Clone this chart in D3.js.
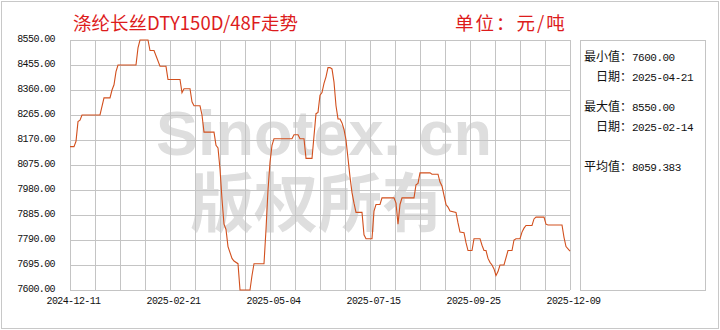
<!DOCTYPE html>
<html>
<head>
<meta charset="utf-8">
<script src="https://cdn.jsdelivr.net/npm/d3@7"></script>
<style>
  body { margin: 0; background: #fff; }
  .mono { font-family: "Liberation Mono", monospace; }
  .cjk { font-family: "Noto Sans CJK SC", sans-serif; }
</style>
</head>
<body>
<div id="chart"></div>
<script>
// trading-day index (0 = 2024-12-11) and price
const dayIdx = [0, 2, 3, 4, 5, 6, 15, 17, 20, 21, 22, 23, 24, 33, 34, 35, 39, 40, 42, 43,
  45, 48, 49, 55, 56, 57, 60, 61, 62, 65, 66, 67, 72, 73, 74, 75, 76, 77, 78, 79,
  81, 82, 84, 85, 90, 91, 92, 97, 98, 99, 100, 101, 102, 111, 112, 114, 115, 117, 118, 121,
  122, 123, 124, 125, 126, 127, 128, 129, 130, 131, 132, 133, 134, 135, 136, 137, 138, 139, 140, 141,
  142, 143, 146, 147, 148, 151, 152, 153, 155, 156, 162, 163, 164, 165, 166, 172, 173, 174, 175, 180,
  181, 184, 185, 186, 187, 188, 189, 190, 193, 194, 195, 197, 198, 199, 201, 202, 205, 206, 207, 208,
  209, 210, 211, 212, 213, 214, 215, 217, 219, 221, 222, 223, 225, 226, 227, 228, 231, 232, 233, 237,
  238, 239, 246, 247, 248, 250];
const price = [8145, 8145, 8165, 8240, 8245, 8265, 8265, 8330, 8330, 8360, 8380, 8430, 8455, 8455, 8520, 8550, 8550, 8510, 8510, 8490,
  8450, 8450, 8400, 8400, 8350, 8365, 8365, 8315, 8300, 8300, 8265, 8200, 8200, 8150, 8140, 8060, 7945, 7850, 7830, 7765,
  7720, 7710, 7700, 7600, 7600, 7655, 7700, 7700, 7830, 7980, 8085, 8150, 8175, 8175, 8190, 8190, 8175, 8175, 8100, 8100,
  8185, 8270, 8275, 8340, 8350, 8385, 8410, 8445, 8445, 8440, 8390, 8300, 8250, 8250, 8235, 8210, 8170, 8100, 8030, 7970,
  7930, 7895, 7895, 7810, 7795, 7795, 7900, 7925, 7925, 7950, 7950, 7930, 7850, 7925, 7950, 7950, 8000, 8005, 8045, 8045,
  8040, 8040, 8010, 7995, 7960, 7925, 7915, 7900, 7895, 7855, 7820, 7818, 7780, 7750, 7750, 7795, 7795, 7770, 7750, 7750,
  7720, 7705, 7695, 7680, 7655, 7670, 7695, 7695, 7750, 7750, 7790, 7795, 7795, 7820, 7835, 7845, 7845, 7870, 7877, 7877,
  7850, 7847, 7847, 7800, 7765, 7748];

const xTickIdx = [0, 50, 100, 150, 200, 250];
const xTickLabels = ["2024-12-11", "2025-02-21", "2025-05-04", "2025-07-15", "2025-09-25", "2025-12-09"];
const yTicks = [7600, 7695, 7790, 7885, 7980, 8075, 8170, 8265, 8360, 8455, 8550];

const statNames = ["最小值：", "日期：", "最大值：", "日期：", "平均值："];
const statValues = ["7600.00", "2025-04-21", "8550.00", "2025-02-14", "8059.383"];

const titleText = "涤纶长丝DTY150D/48F走势";
const unitText = "单位：元/吨";

const margin = {top: 40, left: 70};
const width = 500, height = 250;
const gridColor = "#c4c4c4";

const svg = d3.select("#chart").append("svg")
  .attr("width", 720)
  .attr("height", 330);

// outer frame
svg.append("rect")
  .attr("x", 1.5).attr("y", 1.5)
  .attr("width", 717).attr("height", 327)
  .attr("fill", "none")
  .attr("stroke", "#c8c8c8");

svg.append("text")
  .attr("class", "cjk")
  .attr("x", 73).attr("y", 29.5)
  .attr("font-size", "18.5px")
  .attr("fill", "#dd1c1c")
  .text(titleText);

svg.append("text")
  .attr("class", "cjk")
  .attr("x", 455).attr("y", 29.5)
  .attr("font-size", "18.5px")
  .attr("letter-spacing", "2px")
  .attr("fill", "#dd1c1c")
  .text(unitText);

const x = d3.scaleLinear().domain([0, 250]).range([0, width]);
const y = d3.scaleLinear().domain([7600, 8550]).range([height, 0]);

const g = svg.append("g")
  .attr("transform", `translate(${margin.left},${margin.top})`);

// watermark
g.append("text")
  .attr("x", 86).attr("y", 115)
  .attr("font-family", "Liberation Sans, Arial, sans-serif")
  .attr("font-weight", "bold")
  .attr("font-size", "63px")
  .attr("fill", "#dedede")
  .text("Sinotex. cn");
g.append("text")
  .attr("class", "cjk")
  .attr("x", 120).attr("y", 186)
  .attr("font-weight", "bold")
  .attr("font-size", "64px")
  .attr("fill", "#dedede")
  .text("版权所有");

// vertical grid, every 12.5 days
g.append("g")
  .selectAll("line")
  .data(d3.range(0, 250.1, 12.5))
  .join("line")
  .attr("x1", d => Math.round(x(d)) + 0.5)
  .attr("x2", d => Math.round(x(d)) + 0.5)
  .attr("y1", 0)
  .attr("y2", height)
  .attr("stroke", gridColor);

// y axis with horizontal grid
const yAxis = d3.axisLeft(y)
  .tickValues(yTicks)
  .tickSize(-width)
  .tickPadding(15)
  .tickFormat(d3.format(".2f"));

const yAxisG = g.append("g").attr("class", "axis y-axis").call(yAxis);
yAxisG.select(".domain").remove();
yAxisG.selectAll("line").attr("stroke", gridColor);
yAxisG.selectAll("text")
  .attr("class", "mono")
  .attr("font-size", "10px")
  .attr("letter-spacing", "-0.6px")
  .attr("fill", "#111")
  .attr("dy", "0.15em");
yAxisG.attr("font-family", null);

// x axis labels
const xAxis = d3.axisBottom(x)
  .tickValues(xTickIdx)
  .tickSize(0)
  .tickPadding(7)
  .tickFormat((d, i) => xTickLabels[i]);

const xAxisG = g.append("g")
  .attr("class", "axis x-axis")
  .attr("transform", `translate(0,${height})`)
  .call(xAxis);
xAxisG.select(".domain").remove();
xAxisG.selectAll("text")
  .attr("class", "mono")
  .attr("font-size", "10px")
  .attr("letter-spacing", "-0.6px")
  .attr("fill", "#111")
  .attr("dx", "3");
xAxisG.attr("font-family", null);

// price line
const line = d3.line()
  .x(i => x(dayIdx[i]))
  .y(i => y(price[i]));

g.append("path")
  .datum(d3.range(dayIdx.length))
  .attr("d", line)
  .attr("fill", "none")
  .attr("stroke", "#d2501e")
  .attr("stroke-width", 1.1);

// statistics panel
svg.append("rect")
  .attr("x", 580.5).attr("y", 40.5)
  .attr("width", 125).attr("height", 250)
  .attr("fill", "none")
  .attr("stroke", gridColor);

const rowY = [60.5, 80.5, 110.5, 130.5, 170.5];
const rowX = [584, 596, 584, 596, 584];

statNames.forEach((name, i) => {
  const t = svg.append("text")
    .attr("x", rowX[i]).attr("y", rowY[i])
    .attr("fill", "#111");
  t.append("tspan")
    .attr("class", "cjk")
    .attr("font-size", "12px")
    .text(name);
  t.append("tspan")
    .attr("class", "mono")
    .attr("font-size", "11px")
    .attr("letter-spacing", "-0.5px")
    .text(statValues[i]);
});
</script>
</body>
</html>
